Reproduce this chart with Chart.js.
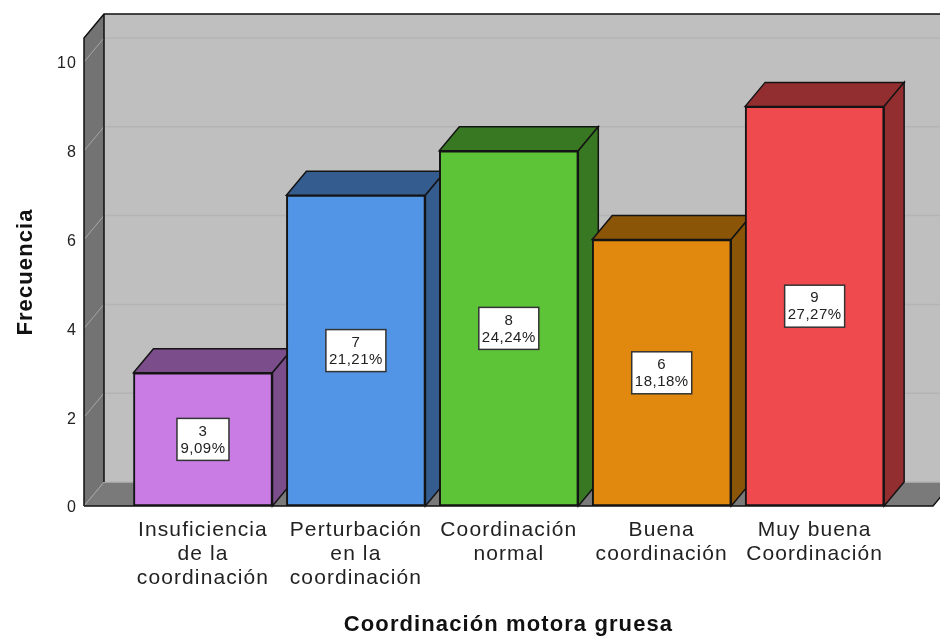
<!DOCTYPE html>
<html>
<head>
<meta charset="utf-8">
<title>Coordinación motora gruesa</title>
<script src="https://cdn.jsdelivr.net/npm/chart.js@4"></script>
<style>
  html, body { margin: 0; padding: 0; background: #fff; }
  canvas { display: block; }
</style>
</head>
<body>
<canvas id="myChart" width="940" height="636"></canvas>
<script>
const categories = [
    ['Insuficiencia', 'de la', 'coordinación'],
    ['Perturbación', 'en la', 'coordinación'],
    ['Coordinación', 'normal'],
    ['Buena', 'coordinación'],
    ['Muy buena', 'Coordinación']
];
const frequencies = [3, 7, 8, 6, 9];
const percentLabels = ['9,09%', '21,21%', '24,24%', '18,18%', '27,27%'];
const yTicks = [0, 2, 4, 6, 8, 10];
const frontColors = ['#c97de4', '#5295e6', '#5dc438', '#e0890e', '#ef4b4e'];
const sideColors = ['#7b4d8b', '#345c8e', '#397823', '#8a5507', '#922d30'];

const depthX = 20;
const depthY = 24;
const fontFamily = '"Liberation Sans", Arial, sans-serif';
const textColor = '#222222';

function fillPoly(ctx, points, fill, stroke, lineWidth) {
    ctx.beginPath();
    points.forEach((p, i) => (i ? ctx.lineTo(p[0], p[1]) : ctx.moveTo(p[0], p[1])));
    ctx.closePath();
    ctx.fillStyle = fill;
    ctx.fill();
    if (stroke) {
        ctx.strokeStyle = stroke;
        ctx.lineWidth = lineWidth || 1;
        ctx.stroke();
    }
}

// box walls, floor and the grid, all behind the bars
const wallsPlugin = {
    id: 'walls',
    beforeDraw(chart) {
        // wider tracking for the axis text
        chart.ctx.letterSpacing = '1.1px';
    },
    beforeDatasetsDraw(chart) {
        const ctx = chart.ctx;
        const { left, right, top, bottom } = chart.chartArea;
        const yScale = chart.scales.y;

        ctx.save();
        fillPoly(ctx, [[left + depthX, top - depthY], [right + depthX, top - depthY], [right + depthX, bottom - depthY], [left + depthX, bottom - depthY]], '#bfbfbf');
        fillPoly(ctx, [[left, top], [left + depthX, top - depthY], [left + depthX, bottom - depthY], [left, bottom]], '#737373');
        fillPoly(ctx, [[left, bottom], [left + depthX, bottom - depthY], [right + depthX, bottom - depthY], [right, bottom]], '#7a7a7a');

        yTicks.forEach(v => {
            const y = yScale.getPixelForValue(v);
            ctx.lineWidth = 1;
            ctx.strokeStyle = '#a6a6a6';
            ctx.beginPath();
            ctx.moveTo(left, y);
            ctx.lineTo(left + depthX, y - depthY);
            ctx.stroke();
            ctx.strokeStyle = '#b4b4b4';
            ctx.lineWidth = 1.5;
            ctx.beginPath();
            ctx.moveTo(left + depthX, y - depthY);
            ctx.lineTo(right + depthX, y - depthY);
            ctx.stroke();
        });

        // box outline
        ctx.strokeStyle = '#111111';
        ctx.lineWidth = 1.5;
        ctx.beginPath();
        ctx.moveTo(left, bottom);
        ctx.lineTo(left, top);
        ctx.lineTo(left + depthX, top - depthY);
        ctx.lineTo(right + depthX, top - depthY);
        ctx.moveTo(left + depthX, top - depthY);
        ctx.lineTo(left + depthX, bottom - depthY);
        ctx.moveTo(left, bottom);
        ctx.lineTo(right, bottom);
        ctx.lineTo(right + depthX, bottom - depthY);
        ctx.stroke();

        // top and side faces of the bars, the fronts go over them
        chart.getDatasetMeta(0).data.forEach((bar, i) => {
            const l = bar.x - bar.width / 2;
            const r = bar.x + bar.width / 2;
            fillPoly(ctx, [[l, bar.y], [l + depthX, bar.y - depthY], [r + depthX, bar.y - depthY], [r, bar.y]], sideColors[i], '#141414', 1.5);
            fillPoly(ctx, [[r, bar.y], [r + depthX, bar.y - depthY], [r + depthX, bar.base - depthY], [r, bar.base]], sideColors[i], '#141414', 1.5);
        });
        ctx.restore();
    },
    afterDatasetsDraw(chart) {
        const ctx = chart.ctx;
        ctx.save();
        ctx.letterSpacing = '0.5px';
        ctx.font = '15px ' + fontFamily;
        ctx.textAlign = 'center';
        ctx.textBaseline = 'middle';
        chart.getDatasetMeta(0).data.forEach((bar, i) => {
            const cy = (bar.y + bar.base) / 2;
            const first = String(frequencies[i]);
            const w = Math.ceil(ctx.measureText(percentLabels[i]).width) + 6;
            ctx.fillStyle = '#ffffff';
            ctx.strokeStyle = '#333333';
            ctx.lineWidth = 1.5;
            ctx.fillRect(bar.x - w / 2, cy - 21, w, 42);
            ctx.strokeRect(bar.x - w / 2, cy - 21, w, 42);
            ctx.fillStyle = textColor;
            ctx.fillText(first, bar.x, cy - 8);
            ctx.fillText(percentLabels[i], bar.x, cy + 9);
        });
        ctx.restore();
    }
};

new Chart(document.getElementById('myChart'), {
    type: 'bar',
    data: {
        datasets: [{
            label: 'Frecuencia',
            data: frequencies.map((v, i) => ({ x: i, y: v })),
            backgroundColor: frontColors,
            borderColor: '#141414',
            borderWidth: 2,
            borderSkipped: false,
            barThickness: 139
        }]
    },
    options: {
        responsive: false,
        animation: false,
        layout: { padding: { top: 38, right: 7, left: 0, bottom: 0 } },
        plugins: { legend: { display: false }, tooltip: { enabled: false } },
        scales: {
            x: {
                type: 'linear',
                offset: false,
                min: -0.778,
                max: 4.774,
                grid: { display: false, drawTicks: false },
                border: { display: false },
                afterBuildTicks: scale => {
                    scale.ticks = categories.map((_, i) => ({ value: i }));
                },
                afterFit: scale => { scale.height = 130; },
                ticks: {
                    autoSkip: false,
                    maxRotation: 0,
                    minRotation: 0,
                    padding: 12,
                    color: textColor,
                    font: { family: fontFamily, size: 21, lineHeight: 1.15 },
                    callback: value => categories[value]
                },
                title: {
                    display: true,
                    text: 'Coordinación motora gruesa',
                    color: '#111111',
                    font: { family: fontFamily, size: 22, weight: 'bold', lineHeight: 1 },
                    padding: { top: 0, bottom: 0 }
                }
            },
            y: {
                min: 0,
                max: 10.54,
                grid: { display: false, drawTicks: false },
                border: { display: false },
                afterBuildTicks: scale => {
                    scale.ticks = yTicks.map(v => ({ value: v }));
                },
                afterFit: scale => { scale.width = 84; },
                ticks: {
                    padding: 7,
                    labelOffset: 2,
                    color: textColor,
                    font: { family: fontFamily, size: 16 }
                },
                title: {
                    display: true,
                    text: 'Frecuencia',
                    color: '#111111',
                    font: { family: fontFamily, size: 22, weight: 'bold' },
                    padding: { top: 13, bottom: 0 }
                }
            }
        }
    },
    plugins: [wallsPlugin]
});
</script>
</body>
</html>
